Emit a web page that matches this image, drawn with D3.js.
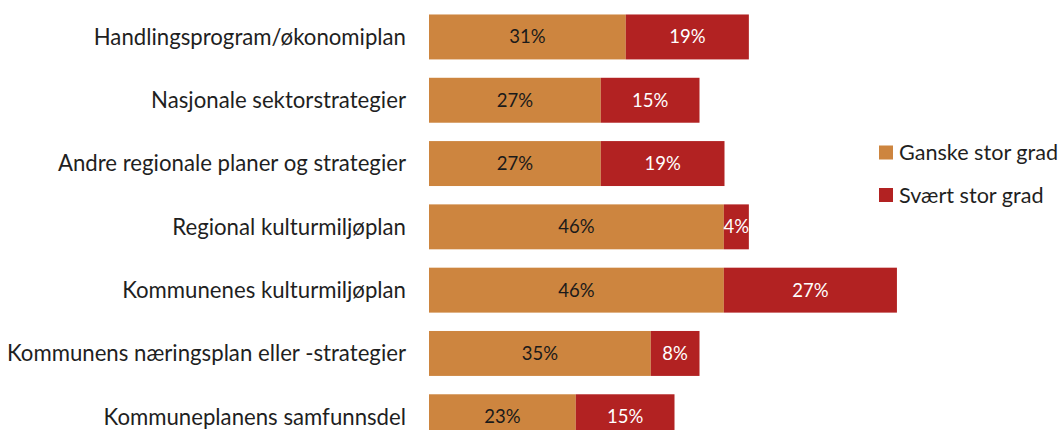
<!DOCTYPE html>
<html>
<head>
<meta charset="utf-8">
<script src="https://cdn.jsdelivr.net/npm/d3@7"></script>
<style>
  body { margin: 0; background: #fff; }
  svg text { font-family: Lato, 'Open Sans', sans-serif; }
</style>
</head>
<body>
<svg id="chart" width="1060" height="430"></svg>
<script>
// data (bar lengths), labels show rounded values
const categories = [
  'Handlingsprogram/økonomiplan',
  'Nasjonale sektorstrategier',
  'Andre regionale planer og strategier',
  'Regional kulturmiljøplan',
  'Kommunenes kulturmiljøplan',
  'Kommunens næringsplan eller -strategier',
  'Kommuneplanens samfunnsdel'
]
const ganske = [30.7, 26.8, 26.8, 46.0, 46.0, 34.6, 22.9]
const svaert = [19.2, 15.4, 19.3, 3.9, 27.0, 7.6, 15.4]
const seriesNames = ['Ganske stor grad', 'Svært stor grad']
const seriesColors = ['#cd853f', '#b22222']
const textColors = ['#1a1a1a', '#ffffff']

const svg = d3.select('#chart')

const x = d3.scaleLinear().domain([0, 100]).range([429, 1070])
const y = d3.scaleBand()
      .domain(categories)
      .range([5.3, 448.4])
      .paddingInner(0.29)
      .paddingOuter(0.145)

const rows = categories.map((c, i) => ({cat: c, vals: [ganske[i], svaert[i]]}))

// category labels
svg.append('g')
  .selectAll('text')
  .data(categories)
  .join('text')
  .attr('x', 406)
  .attr('y', d => y(d) + y.bandwidth() / 2)
  .attr('dy', '0.35em')
  .attr('text-anchor', 'end')
  .style('font-size', '22.2px')
  .style('fill', '#1f1f1f')
  .text(d => d)

const stack = d3.stack().keys([0, 1]).value((d, k) => d.vals[k])
const layers = stack(rows)

const g = svg.append('g')
  .selectAll('g')
  .data(layers)
  .join('g')

g.selectAll('rect')
  .data(d => d)
  .join('rect')
  .attr('x', d => x(d[0]))
  .attr('y', d => y(d.data.cat))
  .attr('width', d => x(d[1]) - x(d[0]))
  .attr('height', y.bandwidth())
  .style('fill', function() { return seriesColors[d3.select(this.parentNode).datum().key] })

g.selectAll('text')
  .data(d => d.map(p => ({p: p, k: d.key})))
  .join('text')
  .attr('x', d => (x(d.p[0]) + x(d.p[1])) / 2)
  .attr('y', d => y(d.p.data.cat) + y.bandwidth() / 2)
  .attr('dy', '0.35em')
  .attr('text-anchor', 'middle')
  .style('font-size', '18.5px')
  .style('fill', d => textColors[d.k])
  .text(d => Math.round(d.p.data.vals[d.k]) + '%')

// legend
const legend = svg.append('g')
  .selectAll('g')
  .data(seriesNames)
  .join('g')
  .attr('transform', (d, i) => 'translate(879,' + (145.5 + i * 42.5) + ')')

legend.append('rect')
  .attr('width', 14)
  .attr('height', 14)
  .style('fill', (d, i) => seriesColors[i])

legend.append('text')
  .attr('x', 20)
  .attr('y', 7)
  .attr('dy', '0.35em')
  .style('font-size', '21.6px')
  .style('fill', '#1f1f1f')
  .text(d => d)
</script>
</body>
</html>
